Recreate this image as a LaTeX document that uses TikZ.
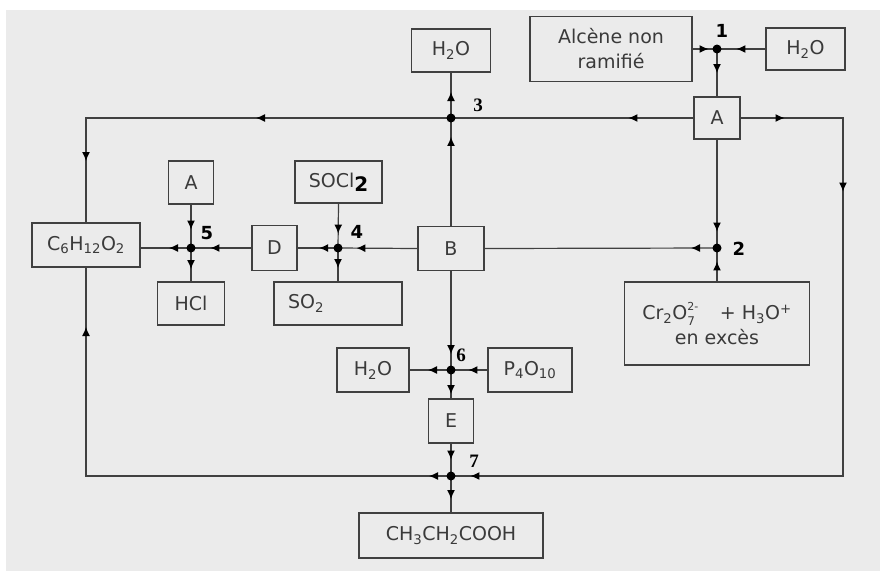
\documentclass[tikz,border=0pt]{standalone}
\usepackage{fontspec}
\setmainfont{DejaVu Sans}
\newfontfamily\serifnum{Liberation Serif}
\usetikzlibrary{arrows.meta,decorations.markings}
\definecolor{bgc}{HTML}{EBEBEB}
\definecolor{ln}{HTML}{404040}
\definecolor{tx}{HTML}{3A3A3A}
\newcommand\sbs[1]{\textsubscript{#1}}
\newcommand\sps[1]{\textsuperscript{#1}}
\newcommand\lowsub[1]{\raisebox{-0.3em}{\fontsize{12}{12}\selectfont #1}}
\newcommand\highsup[1]{\raisebox{0.5em}{\fontsize{11}{11}\selectfont #1}}
\begin{document}
\begin{tikzpicture}[x=1pt,y=-1pt,
  box/.style={draw=ln,line width=1.1pt,inner sep=0pt,text=tx,font=\fontsize{19}{25}\selectfont,align=center},
  jn/.style={circle,fill=black,inner sep=0pt,minimum size=9pt},
  con/.style={draw=ln,line width=1.2pt},
  arr/.style={postaction={decorate,decoration={markings,mark=at position #1 with {\arrow[black]{Latex[length=9pt,width=8pt]}}}}},
  labs/.style={font=\fontsize{18}{18}\selectfont\bfseries},
  labr/.style={font=\fontsize{19}{19}\selectfont\serifnum\bfseries}
]
\useasboundingbox (0,0) rectangle (880,571);
\fill[white] (0,0) rectangle (880,571);
\fill[bgc] (6,10) rectangle (880,571);

% boxes
\node[box,minimum width=162pt,minimum height=65pt] (alc) at (611,49) {Alcène non\\ramifié};
\node[box,minimum width=79pt,minimum height=42pt] (h2oA) at (805.5,49) {H\sbs{2}O};
\node[box,minimum width=46pt,minimum height=42pt] (A1) at (717,118) {A};
\node[box,minimum width=79pt,minimum height=43pt] (h2oB) at (451,50.5) {H\sbs{2}O};
\node[box,minimum width=66pt,minimum height=44pt] (B) at (451,248.5) {B};
\node[box,minimum width=185pt,minimum height=83pt] (cr) at (717,323.5) {Cr\sbs{2}O\rlap{\highsup{2-}}\lowsub{7}\quad\ + H\sbs{3}O\sps{+}\\en excès};
\node[box,minimum width=108pt,minimum height=44pt] (C6) at (86,245) {C\sbs{6}H\sbs{12}O\sbs{2}};
\node[box,minimum width=45pt,minimum height=43pt] (A2) at (191,182.5) {A};
\node[box,minimum width=67pt,minimum height=43pt] (HCl) at (191,303.5) {HCl};
\node[box,minimum width=45pt,minimum height=45pt] (D) at (274.5,248) {D};
\node[box,minimum width=87pt,minimum height=42pt] (SOCl) at (338.5,182) {SOCl\raisebox{-0.4ex}{\color{black}\fontsize{20}{20}\selectfont\bfseries 2}};
\node[box,minimum height=43pt,text width=100pt,inner xsep=14pt,align=left] (SO2) at (338,303.5) {SO\sbs{2}};
\node[box,minimum width=72pt,minimum height=44pt] (H2Oc) at (373,370) {H\sbs{2}O};
\node[box,minimum width=84pt,minimum height=44pt] (P4) at (530,370) {P\sbs{4}O\sbs{10}};
\node[box,minimum width=45pt,minimum height=44pt] (E) at (451,421) {E};
\node[box,minimum width=184pt,minimum height=45pt] (CH3) at (451,535.5) {CH\sbs{3}CH\sbs{2}COOH};

% junctions
\coordinate (j1) at (717,49);
\coordinate (j3) at (451,118);
\coordinate (j2) at (717,248);
\coordinate (j4) at (338,248);
\coordinate (j5) at (191,248);
\coordinate (j6) at (451,370);
\coordinate (j7) at (451,476);
\coordinate (tl) at (C6.north |- j3);
\coordinate (tr) at (843,118);
\coordinate (br) at (843,476);
\coordinate (bl) at (C6.south |- j7);

% connectors
\draw[con,arr=16pt] (alc.east) -- (j1);
\draw[con,arr=29pt] (h2oA.west) -- (j1);
\draw[con,arr=24pt] (j1) -- (A1.north);
\draw[con,arr=65pt] (A1.west) -- (j3);
\draw[con,arr=195pt,arr=408pt] (j3) -- (tl) -- (C6.north);
\draw[con,arr=44pt,arr=176pt,arr=833pt] (A1.east) -- (tr) -- (br) -- (j7);
\draw[con,arr=22pt,arr=514pt] (j7) -- (bl) -- (C6.south);
\draw[con,arr=26pt] (j3) -- (h2oB.south);
\draw[con,arr=89pt] (B.north) -- (j3);
\draw[con,arr=26pt] (j2) -- (B.east);
\draw[con,arr=92pt] (A1.south) -- (j2);
\draw[con,arr=20pt] (cr.north) -- (j2);
\draw[con,arr=61pt] (B.west) -- (j4);
\draw[con,arr=30pt] (SOCl.south) -- (j4);
\draw[con,arr=20pt] (j4) -- (j4 |- SO2.north);
\draw[con,line width=2.2pt,arr=19pt] (j4) -- (D.east);
\draw[con,arr=41pt] (D.west) -- (j5);
\draw[con,arr=25pt] (A2.south) -- (j5);
\draw[con,arr=21pt] (j5) -- (HCl.north);
\draw[con,arr=22pt] (j5) -- (j5 -| C6.east);
\draw[con,arr=83pt] (B.south) -- (j6);
\draw[con,arr=19pt] (P4.west) -- (j6);
\draw[con,arr=23pt] (j6) -- (H2Oc.east);
\draw[con,arr=24pt] (j6) -- (E.north);
\draw[con,arr=16pt] (E.south) -- (j7);
\draw[con,arr=23pt] (j7) -- (CH3.north);

% junction dots
\node[jn] (d1) at (j1) {};
\node[jn] (d2) at (j2) {};
\node[jn] (d3) at (j3) {};
\node[jn] (d4) at (j4) {};
\node[jn] (d5) at (j5) {};
\node[jn] (d6) at (j6) {};
\node[jn] (d7) at (j7) {};

% labels
\node[labs] (l1) at (722,31) {1};
\node[labs] (l2) at (739,249) {2};
\node[labr] (l3) at (478,105) {3};
\node[labs] (l4) at (357,232) {4};
\node[labs] (l5) at (207,233) {5};
\node[labr] (l6) at (461,355) {6};
\node[labr] (l7) at (474,461) {7};
\end{tikzpicture}
\end{document}
